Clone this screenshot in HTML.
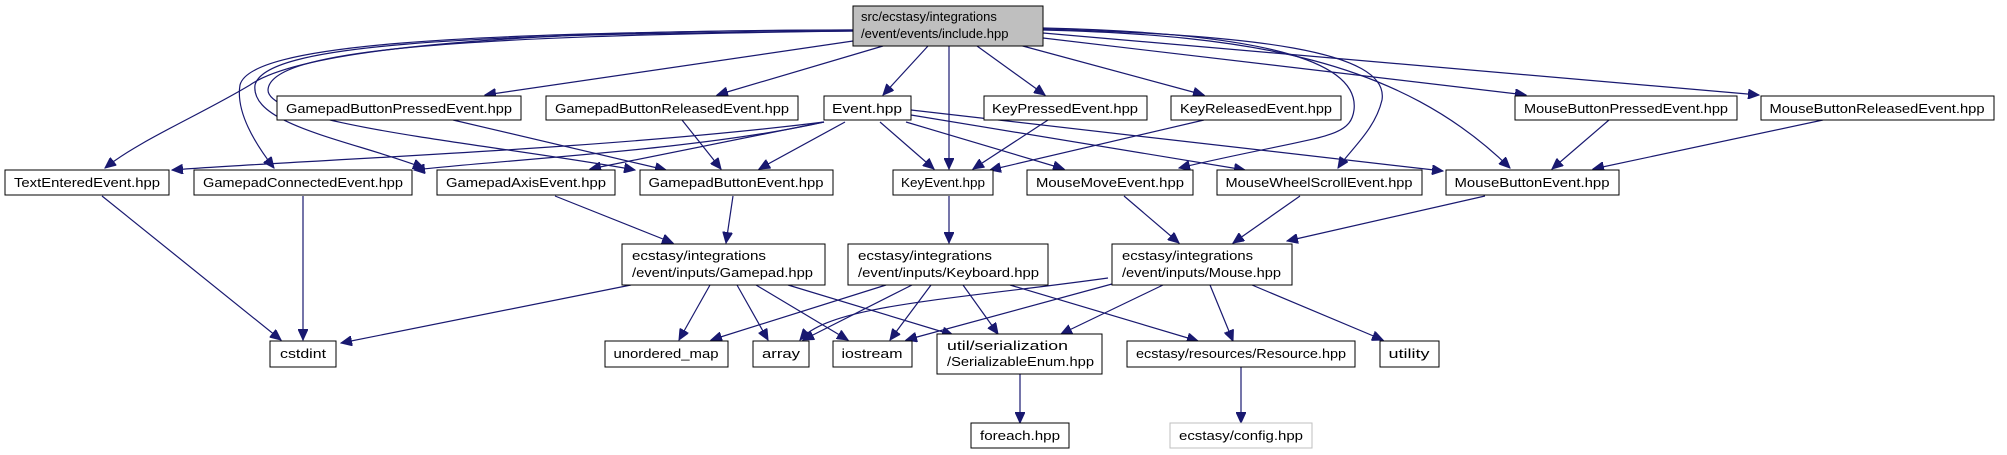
<!DOCTYPE html>
<html><head><meta charset="utf-8"><style>
html,body{margin:0;padding:0;background:#fff;}
svg{display:block;}
text{font-family:"Liberation Sans","DejaVu Sans",sans-serif;font-size:13px;fill:#000;}
.e{fill:none;stroke:#191970;stroke-width:1.2;marker-end:url(#a);}
.b{fill:#fff;stroke:#000;stroke-width:1;}
</style></head><body>
<svg width="2007" height="455" viewBox="0 0 2007 455" xmlns="http://www.w3.org/2000/svg">
<defs><marker id="a" markerUnits="userSpaceOnUse" markerWidth="12" markerHeight="10" refX="11" refY="5" orient="auto"><path d="M0,0 L11,5 L0,10 z" fill="#191970" stroke="#191970"/></marker></defs>
<!-- edges root -->
<path class="e" d="M853,41 L485,95"/>
<path class="e" d="M883,46 L717,95"/>
<path class="e" d="M928,46 L883,95"/>
<path class="e" d="M949,46 L949,169"/>
<path class="e" d="M977,46 L1045,95"/>
<path class="e" d="M1019,45 L1204,95"/>
<path class="e" d="M1043,38 L1526,95"/>
<path class="e" d="M1043,33 L1759,95"/>
<path class="e" d="M1043,30 C1250,35 1400,60 1510,168"/>
<path class="e" d="M1043,29 C1250,35 1390,50 1382,100 C1375,130 1350,150 1338,168"/>
<path class="e" d="M1043,28 C1260,33 1360,60 1354,110 C1350,140 1320,135 1179,168"/>
<path class="e" d="M853,30 C500,30 300,50 250,85 C200,115 140,140 105,168"/>
<path class="e" d="M853,30 C450,32 250,45 240,85 C235,115 260,150 274,168"/>
<path class="e" d="M853,31 C450,34 265,45 255,85 C250,125 350,140 424,168"/>
<path class="e" d="M853,31 C450,36 270,50 268,90 C268,125 500,145 635,170"/>
<!-- Event -->
<path class="e" d="M824,122 C600,150 300,160 172,170"/>
<path class="e" d="M824,122 C700,150 500,160 414,170"/>
<path class="e" d="M824,122 L590,169"/>
<path class="e" d="M845,122 L759,169"/>
<path class="e" d="M880,122 L934,169"/>
<path class="e" d="M906,122 L1064,169"/>
<path class="e" d="M911,115 L1245,170"/>
<path class="e" d="M911,110 L1443,171"/>
<path class="e" d="M453,120 L666,170"/>
<path class="e" d="M682,120 L721,169"/>
<path class="e" d="M1048,120 L973,169"/>
<path class="e" d="M1204,120 L990,170"/>
<path class="e" d="M1609,120 L1552,169"/>
<path class="e" d="M1823,120 L1593,169"/>
<!-- row2 to row3 -->
<path class="e" d="M102,196 L281,340"/>
<path class="e" d="M303,196 L303,340"/>
<path class="e" d="M555,196 L673,243"/>
<path class="e" d="M733,196 L726,243"/>
<path class="e" d="M949,196 L949,243"/>
<path class="e" d="M1124,196 L1179,243"/>
<path class="e" d="M1300,196 L1233,243"/>
<path class="e" d="M1485,196 L1287,241"/>
<!-- Gamepad -->
<path class="e" d="M631,285 L341,343"/>
<path class="e" d="M710,285 L679,340"/>
<path class="e" d="M737,285 L768,340"/>
<path class="e" d="M756,285 L848,340"/>
<path class="e" d="M788,285 L953,335"/>
<!-- Keyboard -->
<path class="e" d="M886,285 L711,340"/>
<path class="e" d="M912,285 L803,340"/>
<path class="e" d="M931,285 L890,340"/>
<path class="e" d="M963,285 L998,334"/>
<path class="e" d="M1010,285 L1198,341"/>
<!-- Mouse -->
<path class="e" d="M1108,278 C950,300 830,305 800,340"/>
<path class="e" d="M1112,284 L906,340"/>
<path class="e" d="M1163,285 L1061,334"/>
<path class="e" d="M1210,285 L1233,341"/>
<path class="e" d="M1252,285 L1383,340"/>
<path class="e" d="M1020,374 L1020,423"/>
<path class="e" d="M1241,367 L1241,423"/>
<!-- nodes -->
<rect x="853" y="6" width="190" height="40" fill="#bfbfbf" stroke="#000"/>
<text x="861" y="21">src/ecstasy/integrations</text>
<text x="861" y="38">/event/events/include.hpp</text>
<g>
<rect class="b" x="277" y="96" width="244" height="24"/><text x="399" y="113" text-anchor="middle" textLength="226" lengthAdjust="spacingAndGlyphs">GamepadButtonPressedEvent.hpp</text>
<rect class="b" x="546" y="96" width="252" height="24"/><text x="672" y="113" text-anchor="middle" textLength="234" lengthAdjust="spacingAndGlyphs">GamepadButtonReleasedEvent.hpp</text>
<rect class="b" x="824" y="96" width="87" height="24"/><text x="867" y="113" text-anchor="middle" textLength="70" lengthAdjust="spacingAndGlyphs">Event.hpp</text>
<rect class="b" x="984" y="96" width="163" height="24"/><text x="1065" y="113" text-anchor="middle" textLength="146" lengthAdjust="spacingAndGlyphs">KeyPressedEvent.hpp</text>
<rect class="b" x="1171" y="96" width="170" height="24"/><text x="1256" y="113" text-anchor="middle" textLength="152" lengthAdjust="spacingAndGlyphs">KeyReleasedEvent.hpp</text>
<rect class="b" x="1515" y="96" width="222" height="24"/><text x="1626" y="113" text-anchor="middle" textLength="204" lengthAdjust="spacingAndGlyphs">MouseButtonPressedEvent.hpp</text>
<rect class="b" x="1761" y="96" width="233" height="24"/><text x="1877" y="113" text-anchor="middle" textLength="215" lengthAdjust="spacingAndGlyphs">MouseButtonReleasedEvent.hpp</text>

<rect class="b" x="5" y="170" width="164" height="25"/><text x="87" y="187" text-anchor="middle" textLength="146" lengthAdjust="spacingAndGlyphs">TextEnteredEvent.hpp</text>
<rect class="b" x="194" y="170" width="218" height="25"/><text x="303" y="187" text-anchor="middle" textLength="200" lengthAdjust="spacingAndGlyphs">GamepadConnectedEvent.hpp</text>
<rect class="b" x="437" y="170" width="178" height="25"/><text x="526" y="187" text-anchor="middle" textLength="160" lengthAdjust="spacingAndGlyphs">GamepadAxisEvent.hpp</text>
<rect class="b" x="640" y="170" width="193" height="25"/><text x="736" y="187" text-anchor="middle" textLength="175" lengthAdjust="spacingAndGlyphs">GamepadButtonEvent.hpp</text>
<rect class="b" x="893" y="170" width="100" height="25"/><text x="943" y="187" text-anchor="middle" textLength="84" lengthAdjust="spacingAndGlyphs">KeyEvent.hpp</text>
<rect class="b" x="1027" y="170" width="166" height="25"/><text x="1110" y="187" text-anchor="middle" textLength="148" lengthAdjust="spacingAndGlyphs">MouseMoveEvent.hpp</text>
<rect class="b" x="1217" y="170" width="205" height="25"/><text x="1319" y="187" text-anchor="middle" textLength="187" lengthAdjust="spacingAndGlyphs">MouseWheelScrollEvent.hpp</text>
<rect class="b" x="1446" y="170" width="173" height="25"/><text x="1532" y="187" text-anchor="middle" textLength="155" lengthAdjust="spacingAndGlyphs">MouseButtonEvent.hpp</text>

<rect class="b" x="622" y="244" width="203" height="41"/><text x="632" y="260" textLength="134" lengthAdjust="spacingAndGlyphs">ecstasy/integrations</text><text x="632" y="277" textLength="181" lengthAdjust="spacingAndGlyphs">/event/inputs/Gamepad.hpp</text>
<rect class="b" x="848" y="244" width="200" height="41"/><text x="858" y="260" textLength="134" lengthAdjust="spacingAndGlyphs">ecstasy/integrations</text><text x="858" y="277" textLength="181" lengthAdjust="spacingAndGlyphs">/event/inputs/Keyboard.hpp</text>
<rect class="b" x="1112" y="244" width="180" height="41"/><text x="1122" y="260" textLength="131" lengthAdjust="spacingAndGlyphs">ecstasy/integrations</text><text x="1122" y="277" textLength="159" lengthAdjust="spacingAndGlyphs">/event/inputs/Mouse.hpp</text>

<rect class="b" x="270" y="341" width="66" height="26"/><text x="303" y="358" text-anchor="middle" textLength="46" lengthAdjust="spacingAndGlyphs">cstdint</text>
<rect class="b" x="605" y="341" width="123" height="26"/><text x="666" y="358" text-anchor="middle" textLength="105" lengthAdjust="spacingAndGlyphs">unordered_map</text>
<rect class="b" x="753" y="341" width="56" height="26"/><text x="781" y="358" text-anchor="middle" textLength="38" lengthAdjust="spacingAndGlyphs">array</text>
<rect class="b" x="833" y="341" width="79" height="26"/><text x="872" y="358" text-anchor="middle" textLength="61" lengthAdjust="spacingAndGlyphs">iostream</text>
<rect class="b" x="937" y="334" width="165" height="40"/><text x="947" y="350" textLength="121" lengthAdjust="spacingAndGlyphs">util/serialization</text><text x="947" y="366" textLength="147" lengthAdjust="spacingAndGlyphs">/SerializableEnum.hpp</text>
<rect class="b" x="1127" y="341" width="228" height="26"/><text x="1241" y="358" text-anchor="middle" textLength="210" lengthAdjust="spacingAndGlyphs">ecstasy/resources/Resource.hpp</text>
<rect class="b" x="1380" y="341" width="59" height="26"/><text x="1409" y="358" text-anchor="middle" textLength="41" lengthAdjust="spacingAndGlyphs">utility</text>
<rect class="b" x="971" y="423" width="98" height="25"/><text x="1020" y="440" text-anchor="middle" textLength="80" lengthAdjust="spacingAndGlyphs">foreach.hpp</text>
<rect x="1170" y="423" width="142" height="25" fill="#fff" stroke="#bfbfbf"/><text x="1241" y="440" text-anchor="middle" textLength="124" lengthAdjust="spacingAndGlyphs">ecstasy/config.hpp</text>
</g>
</svg>
</body></html>
